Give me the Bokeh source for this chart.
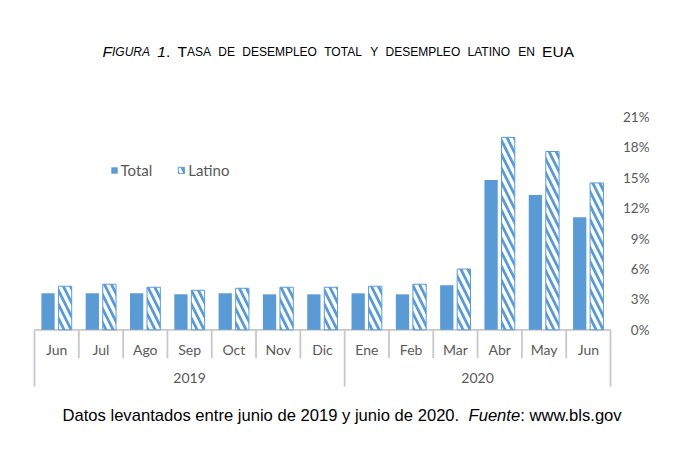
from bokeh.plotting import figure
from bokeh.models import (Range1d, Label, Legend, LegendItem, ColumnDataSource)
from bokeh.embed import file_html
from bokeh.resources import INLINE
from bokeh.core.properties import value

# ---------------- data ----------------
months = ["Jun", "Jul", "Ago", "Sep", "Oct", "Nov", "Dic",
          "Ene", "Feb", "Mar", "Abr", "May", "Jun"]
years = ["2019", "2020"]
year_counts = [7, 6]
total = [3.6, 3.6, 3.6, 3.5, 3.6, 3.5, 3.5, 3.6, 3.5, 4.4, 14.8, 13.3, 11.1]
latino = [4.3, 4.5, 4.2, 3.9, 4.1, 4.2, 4.2, 4.3, 4.5, 6.0, 19.0, 17.6, 14.5]
y_ticks = [0, 3, 6, 9, 12, 15, 18, 21]
y_tick_labels = ["0%", "3%", "6%", "9%", "12%", "15%", "18%", "21%"]

BLUE = "#5B9BD5"
GREY_TXT = "#595959"
AXIS_GREY = "#C8C8C8"
LBL_FONT = "Lato"

# ---------------- Arial metrics (Liberation Sans) ----------------
AW = {" ": 278, ".": 278, ",": 278, ":": 278, "%": 889}
for d in "0123456789":
    AW[d] = 556
AW.update(dict(zip("ABCDEFGHIJKLMNOPQRSTUVWXYZ",
                   [667, 667, 722, 722, 667, 611, 778, 722, 278, 500, 667, 556, 833,
                    722, 778, 667, 778, 722, 667, 611, 722, 667, 944, 667, 667, 611])))
AW.update(dict(zip("abcdefghijklmnopqrstuvwxyz",
                   [556, 556, 500, 556, 556, 278, 556, 556, 222, 222, 500, 222, 833,
                    556, 556, 556, 556, 333, 500, 278, 556, 500, 722, 500, 500, 500])))


def tw(text, size):
    return sum(AW.get(c, 556) for c in text) * size / 1000.0


# ---------------- geometry (page pixels) ----------------
OX, OY = 2, 0            # where the canvas lands on the page
W, H = 664, 445
FL, FR = 36, 612         # plot-area left / right on the page
BASE = 329.3             # page y of 0 %
n = len(months)
px_cat = (FR - FL) / n
px_unit = 10.13

x_start = -0.5 - (FL - OX) / px_cat
x_end = n - 0.5 + (OX + W - FR) / px_cat
y_top = (BASE - OY) / px_unit
y_bot = -(H - (BASE - OY)) / px_unit

p = figure(width=W, height=H, x_range=Range1d(x_start, x_end),
           y_range=Range1d(y_bot, y_top), x_axis_location=None,
           y_axis_location=None, toolbar_location=None,
           output_backend="svg", min_border=0)
p.outline_line_color = None
p.grid.visible = False

# ---------------- value axis (right, labels right-aligned) ----------------
lab_x = n - 0.5 + (651 - FR) / px_cat
src_t = ColumnDataSource(dict(x=[lab_x] * len(y_ticks), y=y_ticks, t=y_tick_labels))
p.text(x="x", y="y", text="t", source=src_t, text_align="right",
       text_baseline="middle", text_font=value(LBL_FONT),
       text_font_size="13.5px", text_color=GREY_TXT)

# ---------------- category axis ----------------
xs = list(range(n))
p.segment(x0=[-0.5], y0=[0], x1=[n - 0.5], y1=[0], line_color=AXIS_GREY, line_width=1.8)
bounds = [-0.5]
for c in year_counts:
    bounds.append(bounds[-1] + c)
div_x = [i - 0.5 for i in range(n + 1)]
div_y1 = [-5.6 if x in bounds else -2.8 for x in div_x]
p.segment(x0=div_x, y0=[0] * len(div_x), x1=div_x, y1=div_y1,
          line_color=AXIS_GREY, line_width=1.8)

src_m = ColumnDataSource(dict(x=xs, y=[-1.9] * n, t=months))
p.text(x="x", y="y", text="t", source=src_m, text_align="center",
       text_baseline="middle", text_font=value(LBL_FONT),
       text_font_size="14px", text_color=GREY_TXT)
year_x = [(bounds[i] + bounds[i + 1]) / 2 for i in range(len(years))]
src_y = ColumnDataSource(dict(x=year_x, y=[-4.75] * len(years), t=years))
p.text(x="x", y="y", text="t", source=src_y, text_align="center",
       text_baseline="middle", text_font=value(LBL_FONT),
       text_font_size="14px", text_color=GREY_TXT)

# ---------------- bars ----------------
src = ColumnDataSource(dict(x=xs, total=total, latino=latino,
                            xt=[x - 0.195 for x in xs], xl=[x + 0.19 for x in xs]))
r1 = p.vbar(x="xt", top="total", bottom=0, width=0.30, source=src,
            fill_color=BLUE, line_color=None)
r2 = p.vbar(x="xl", top="latino", bottom=0, width=0.30, source=src,
            fill_color="white", line_color=BLUE, line_width=1,
            hatch_pattern="left_diagonal_line", hatch_color=BLUE,
            hatch_scale=14, hatch_weight=2.8)

legend = Legend(items=[LegendItem(label="Total", renderers=[r1]),
                       LegendItem(label="Latino", renderers=[r2])],
                orientation="horizontal", location=(111.5 - OX, 266.5),
                glyph_width=8, glyph_height=8, label_standoff=3, spacing=25,
                padding=0, margin=0, label_height=14,
                label_text_font=LBL_FONT, label_text_font_size="15px",
                label_text_color=GREY_TXT, border_line_color=None,
                background_fill_alpha=0)
p.add_layout(legend)

# ---------------- title (small caps emulation) ----------------
B, S = 15.5, 12.0
title_words = [
    [("F", B, "italic"), ("IGURA", S, "italic")],
    [("1", B, "italic"), (".", B, "normal")],
    [("T", B, "normal"), ("ASA", S, "normal")],
    [("DE", S, "normal")],
    [("DESEMPLEO", S, "normal")],
    [("TOTAL", S, "normal")],
    [("Y", S, "normal")],
    [("DESEMPLEO", S, "normal")],
    [("LATINO", S, "normal")],
    [("EN", S, "normal")],
    [("EUA", B, "normal")],
]
gap = 7.3
cx = 104 - OX
ty = H - (51 - OY)
for word in title_words:
    for txt, sz, st in word:
        p.add_layout(Label(x=cx, y=ty, x_units="screen", y_units="screen", text=txt,
                           text_font="Liberation Sans", text_font_size=f"{sz}px",
                           text_font_style=st, text_color="black",
                           text_baseline="alphabetic", text_align="left"))
        cx += tw(txt, sz)
    cx += gap

# ---------------- footer ----------------
F = 16.6
foot = [("Datos levantados entre junio de 2019 y junio de 2020.", "normal", 2),
        ("Fuente", "italic", 0), (": www.bls.gov", "normal", 0)]
fx = 64 - OX
fy = H - (415.2 - OY)
for txt, st, extra_sp in foot:
    p.add_layout(Label(x=fx, y=fy, x_units="screen", y_units="screen", text=txt,
                       text_font="Liberation Sans", text_font_size=f"{F}px",
                       text_font_style=st, text_color="black",
                       text_baseline="alphabetic", text_align="left"))
    fx += tw(txt, F) + extra_sp * tw(" ", F)

open("out.html", "w").write(file_html(p, INLINE))
